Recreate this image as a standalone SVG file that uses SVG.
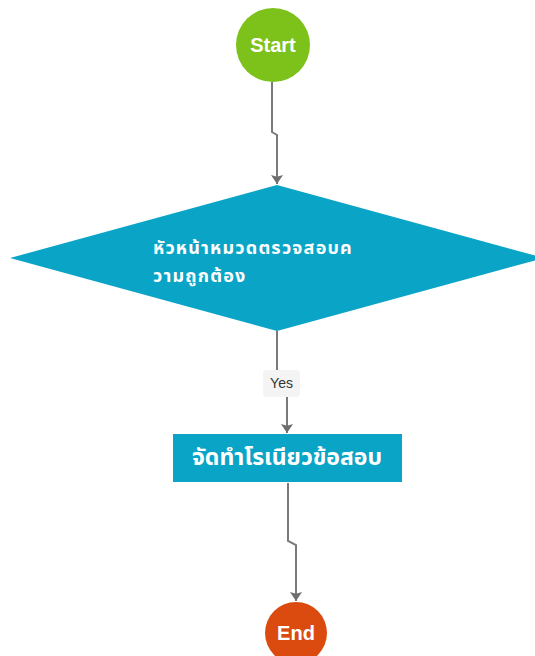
<svg xmlns="http://www.w3.org/2000/svg" width="535" height="656" viewBox="0 0 535 656">
  <style>
    .conn { fill: none; stroke: #7a7a7a; stroke-width: 2; }
    .lbl { font-family: "Liberation Sans", Arial, sans-serif; font-weight: bold; fill: #ffffff; }
    .th { font-family: "Noto Sans Thai", Tahoma, "Liberation Sans", sans-serif; font-weight: bold; fill: #ffffff; }
    .yes { font-family: "Liberation Sans", Arial, sans-serif; font-size: 14px; fill: #333333; }
  </style>
  <defs>
    <marker id="arrow" markerWidth="9" markerHeight="12" refX="10" refY="5" orient="auto" markerUnits="userSpaceOnUse" viewBox="0 0 10 10" preserveAspectRatio="none">
      <path d="M0,0 L10,5 L0,10 L2,5 Z" fill="#6e6e6e"/>
    </marker>
  </defs>
  <rect width="535" height="656" fill="#ffffff"/>
  <g id="connectors">
    <path class="conn" d="M272,82 L272,132 L277,135 L277,184" marker-end="url(#arrow)"/>
    <path class="conn" d="M277,331 L277,383 L287,385 L287,433" marker-end="url(#arrow)"/>
    <path class="conn" d="M288,483 L288,541 L296,545 L296,601" marker-end="url(#arrow)"/>
  </g>
  <g id="yes-label">
    <rect x="263" y="370" width="37" height="27" rx="4" fill="#f4f4f4"/>
    <text class="yes" x="281.5" y="388" text-anchor="middle">Yes</text>
  </g>
  <g id="start">
    <circle cx="273" cy="45" r="37" fill="#7cc21a"/>
    <text class="lbl" x="273" y="52" font-size="20" text-anchor="middle">Start</text>
  </g>
  <g id="decision">
    <polygon points="277,185 544,258 277,331 10,258" fill="#0aa4c7"/>
    <text class="th" font-size="18" letter-spacing="1.2"><tspan x="153" y="254">หัวหน้าหมวดตรวจสอบค</tspan><tspan x="153" y="281.5">วามถูกต้อง</tspan></text>
  </g>
  <g id="task">
    <rect x="173" y="434" width="229" height="48" fill="#0aa4c7"/>
    <text class="th" x="287" y="465" font-size="23" text-anchor="middle">จัดทำโรเนียวข้อสอบ</text>
  </g>
  <g id="end">
    <circle cx="296" cy="633" r="31" fill="#db4a0f"/>
    <text class="lbl" x="296" y="640" font-size="20" text-anchor="middle">End</text>
  </g>
</svg>
